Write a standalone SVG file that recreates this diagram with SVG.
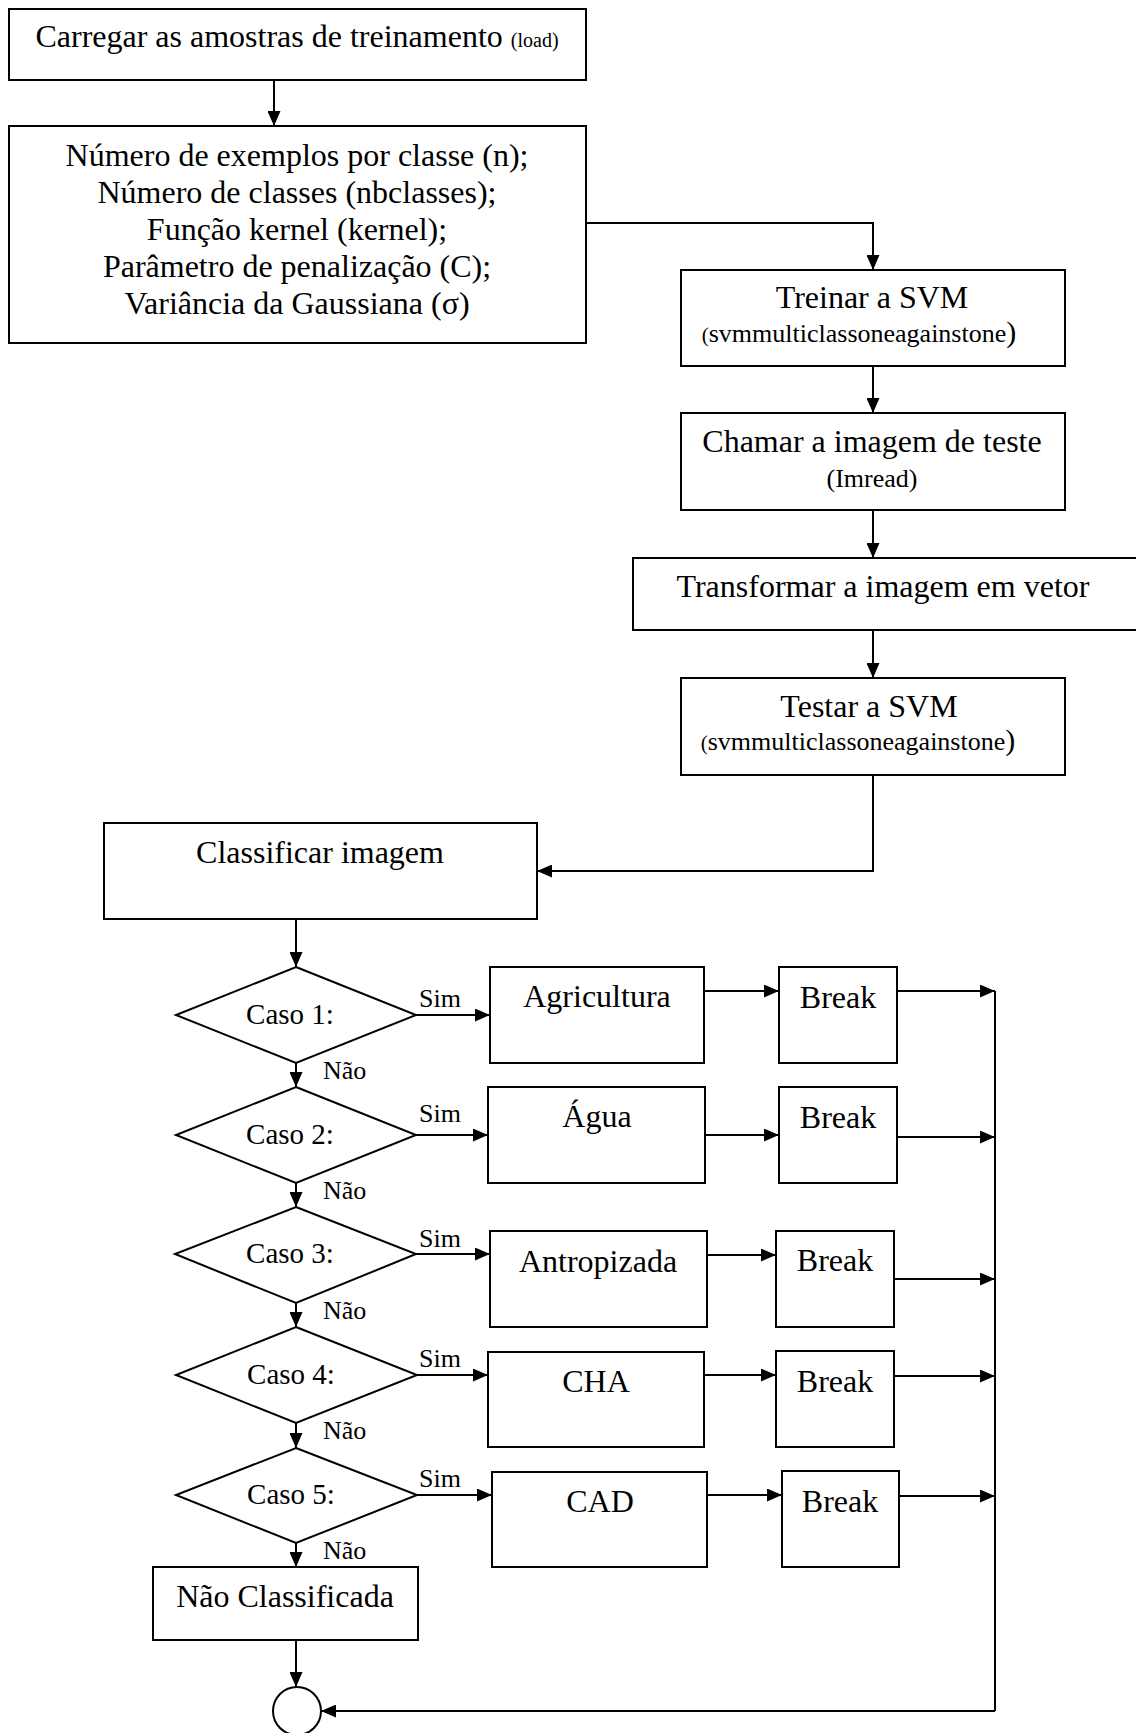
<svg xmlns="http://www.w3.org/2000/svg" width="1136" height="1733" viewBox="0 0 1136 1733">
<style>
text{font-family:"Liberation Serif","Times New Roman",serif;fill:#000;}
.t{font-size:32px;text-anchor:middle;}
.sub{font-size:26px;text-anchor:middle;}
.caso{font-size:29px;text-anchor:middle;}
.lbl{font-size:26px;}
.box{fill:#fff;stroke:#000;stroke-width:2;}
.ln{fill:none;stroke:#000;stroke-width:2;}
.arr{fill:none;stroke:#000;stroke-width:2;marker-end:url(#ah);}
</style>
<defs>
<marker id="ah" markerUnits="userSpaceOnUse" markerWidth="15" markerHeight="13" refX="15" refY="6.5" orient="auto">
<path d="M0,0 L15,6.5 L0,13 z" fill="#000"/>
</marker>
</defs>
<rect width="1136" height="1733" fill="#fff"/>

<g id="connectors">
<path class="arr" d="M274,80 V126"/>
<path class="arr" d="M586,223 H873 V270"/>
<path class="arr" d="M873,366 V413"/>
<path class="arr" d="M873,510 V558"/>
<path class="arr" d="M873,630 V678"/>
<path class="arr" d="M873,775 V871 H537"/>
<path class="arr" d="M296,919 V967"/>
<path class="arr" d="M296,1063 V1087"/>
<path class="arr" d="M296,1183 V1207"/>
<path class="arr" d="M296,1303 V1327"/>
<path class="arr" d="M296,1423 V1448"/>
<path class="arr" d="M296,1543 V1567"/>
<path class="arr" d="M296,1640 V1687"/>
<path class="arr" d="M416,1015 H490"/>
<path class="arr" d="M416,1135 H488"/>
<path class="arr" d="M416,1254 H490"/>
<path class="arr" d="M417,1375 H488"/>
<path class="arr" d="M417,1495 H492"/>
<path class="arr" d="M704,991 H779"/>
<path class="arr" d="M705,1135 H779"/>
<path class="arr" d="M704,1255 H776"/>
<path class="arr" d="M704,1375 H776"/>
<path class="arr" d="M705,1495 H782"/>
<path class="arr" d="M897,991 H995"/>
<path class="arr" d="M897,1137 H995"/>
<path class="arr" d="M894,1279 H995"/>
<path class="arr" d="M894,1376 H995"/>
<path class="arr" d="M899,1496 H995"/>
<path class="ln" d="M995,991 V1711"/>
<path class="arr" d="M995,1711 H321"/>
<text class="lbl" x="419" y="1007">Sim</text>
<text class="lbl" x="419" y="1122">Sim</text>
<text class="lbl" x="419" y="1247">Sim</text>
<text class="lbl" x="419" y="1367">Sim</text>
<text class="lbl" x="419" y="1487">Sim</text>
<text class="lbl" x="323" y="1079">Não</text>
<text class="lbl" x="323" y="1199">Não</text>
<text class="lbl" x="323" y="1319">Não</text>
<text class="lbl" x="323" y="1439">Não</text>
<text class="lbl" x="323" y="1559">Não</text>
</g>

<g id="load">
<rect class="box" x="9" y="9" width="577" height="71"/>
<text class="t" x="297" y="47">Carregar as amostras de treinamento <tspan font-size="20">(load)</tspan></text>
</g>

<g id="params">
<rect class="box" x="9" y="126" width="577" height="217"/>
<text class="t" x="297" y="166">Número de exemplos por classe (n);</text>
<text class="t" x="297" y="203">Número de classes (nbclasses);</text>
<text class="t" x="297" y="240">Função kernel (kernel);</text>
<text class="t" x="297" y="277">Parâmetro de penalização (C);</text>
<text class="t" x="297" y="314">Variância da Gaussiana (σ)</text>
</g>

<g id="treinar">
<rect class="box" x="681" y="270" width="384" height="96"/>
<text class="t" x="872" y="308">Treinar a SVM</text>
<text class="sub" x="859" y="342"><tspan font-size="21">(</tspan>svmmulticlassoneagainstone<tspan font-size="30">)</tspan></text>
</g>

<g id="chamar">
<rect class="box" x="681" y="413" width="384" height="97"/>
<text class="t" x="872" y="452">Chamar a imagem de teste</text>
<text class="sub" x="872" y="487">(Imread)</text>
</g>

<g id="transformar">
<rect class="box" x="633" y="558" width="510" height="72"/>
<text class="t" x="883" y="597">Transformar a imagem em vetor</text>
</g>

<g id="testar">
<rect class="box" x="681" y="678" width="384" height="97"/>
<text class="t" x="869" y="717">Testar a SVM</text>
<text class="sub" x="858" y="750"><tspan font-size="21">(</tspan>svmmulticlassoneagainstone<tspan font-size="30">)</tspan></text>
</g>

<g id="classificar">
<rect class="box" x="104" y="823" width="433" height="96"/>
<text class="t" x="320" y="863">Classificar imagem</text>
</g>

<g id="caso1">
<path class="box" d="M296,967 L416,1015 L296,1063 L176,1015 Z"/>
<text class="caso" x="290" y="1024">Caso 1:</text>
</g>
<g id="caso2">
<path class="box" d="M296,1087 L416,1135 L296,1183 L176,1135 Z"/>
<text class="caso" x="290" y="1144">Caso 2:</text>
</g>
<g id="caso3">
<path class="box" d="M296,1207 L416,1254 L296,1303 L175,1254 Z"/>
<text class="caso" x="290" y="1263">Caso 3:</text>
</g>
<g id="caso4">
<path class="box" d="M296,1327 L417,1375 L296,1423 L176,1375 Z"/>
<text class="caso" x="291" y="1384">Caso 4:</text>
</g>
<g id="caso5">
<path class="box" d="M296,1448 L417,1495 L296,1543 L176,1495 Z"/>
<text class="caso" x="291" y="1504">Caso 5:</text>
</g>

<g id="agricultura">
<rect class="box" x="490" y="967" width="214" height="96"/>
<text class="t" x="597" y="1007">Agricultura</text>
</g>
<g id="agua">
<rect class="box" x="488" y="1087" width="217" height="96"/>
<text class="t" x="597" y="1127">Água</text>
</g>
<g id="antropizada">
<rect class="box" x="490" y="1231" width="217" height="96"/>
<text class="t" x="598" y="1272">Antropizada</text>
</g>
<g id="cha">
<rect class="box" x="488" y="1352" width="216" height="95"/>
<text class="t" x="596" y="1392">CHA</text>
</g>
<g id="cad">
<rect class="box" x="492" y="1472" width="215" height="95"/>
<text class="t" x="600" y="1512">CAD</text>
</g>

<g id="break1">
<rect class="box" x="779" y="967" width="118" height="96"/>
<text class="t" x="838" y="1008">Break</text>
</g>
<g id="break2">
<rect class="box" x="779" y="1087" width="118" height="96"/>
<text class="t" x="838" y="1128">Break</text>
</g>
<g id="break3">
<rect class="box" x="776" y="1231" width="118" height="96"/>
<text class="t" x="835" y="1271">Break</text>
</g>
<g id="break4">
<rect class="box" x="776" y="1351" width="118" height="96"/>
<text class="t" x="835" y="1392">Break</text>
</g>
<g id="break5">
<rect class="box" x="782" y="1471" width="117" height="96"/>
<text class="t" x="840" y="1512">Break</text>
</g>

<g id="nao-classificada">
<rect class="box" x="153" y="1567" width="265" height="73"/>
<text class="t" x="285" y="1607">Não Classificada</text>
</g>

<g id="fim">
<circle class="box" cx="297" cy="1711" r="24"/>
</g>
</svg>
